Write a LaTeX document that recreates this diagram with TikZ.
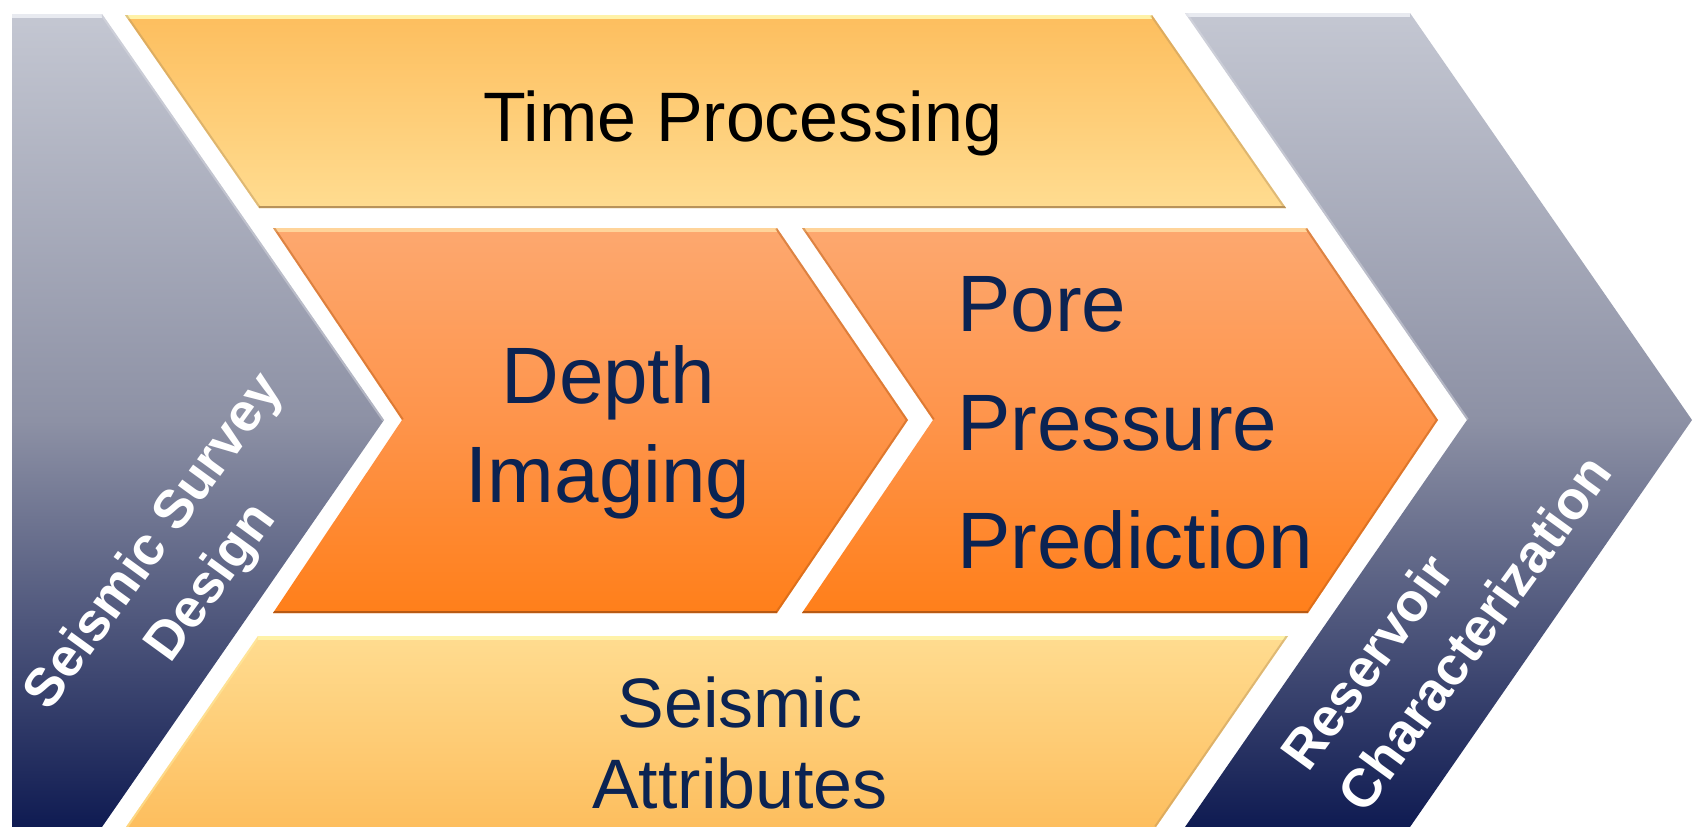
\documentclass[tikz,border=0pt]{standalone}
\usepackage{fontspec}
\setmainfont{Liberation Sans}
\definecolor{gTop}{HTML}{C4C7D2}
\definecolor{gMid}{HTML}{8D91A5}
\definecolor{gBot}{HTML}{0F1B52}
\definecolor{gHi}{HTML}{E8EAF0}
\definecolor{yTop}{HTML}{FDBE5E}
\definecolor{yBot}{HTML}{FFDC90}
\definecolor{yHi}{HTML}{FFF2A8}
\definecolor{yDk}{HTML}{B9935A}
\definecolor{oTop}{HTML}{FDA86F}
\definecolor{oMid}{HTML}{FE944B}
\definecolor{oBot}{HTML}{FF7F1A}
\definecolor{oHi}{HTML}{FFD49A}
\definecolor{oDk}{HTML}{B85A14}
\definecolor{navy}{HTML}{0B2352}
\begin{document}
\begin{tikzpicture}[x=1pt,y=-1pt,
  greybox/.style={top color=gTop,bottom color=gBot,middle color=gMid},
  ybox/.style={top color=yTop,bottom color=yBot},
  ybox2/.style={top color=yBot,bottom color=yTop},
  obox/.style={top color=oTop,bottom color=oBot,middle color=oMid},
  hiedge/.style={line width=8pt},
  dkedge/.style={line width=5pt},
  sideedge/.style={line width=4pt,opacity=0.45},
  big/.style={inner sep=0pt,font=\fontsize{80}{96}\selectfont,text=navy},
  mid/.style={inner sep=0pt,font=\fontsize{70}{81}\selectfont,text=navy},
  side/.style={inner sep=0pt,font=\fontsize{54}{70}\selectfont\bfseries,text=white,rotate=54}]
\useasboundingbox (0,0) rectangle (1695,827);
\clip (0,0) rectangle (1695,827);
\fill[white] (0,0) rectangle (1695,827);

% left grey chevron
\path[greybox] (12,14) -- (102,14) -- (384,420) -- (102,827) -- (12,827) -- cycle;
\begin{scope}
\clip (12,14) -- (102,14) -- (384,420) -- (102,827) -- (12,827) -- cycle;
\draw[hiedge,gHi] (12,14) -- (102,14);
\draw[sideedge,gTop!60!white] (102,14) -- (384,420);
\end{scope}

% right grey chevron
\path[greybox] (1185,13) -- (1410,13) -- (1692,420) -- (1410,827) -- (1185,827) -- (1467,420) -- cycle;
\begin{scope}
\clip (1185,13) -- (1410,13) -- (1692,420) -- (1410,827) -- (1185,827) -- (1467,420) -- cycle;
\draw[hiedge,gHi] (1185,13) -- (1410,13);
\draw[sideedge,gTop!60!white] (1185,13) -- (1467,420);
\end{scope}

% Time Processing band
\path[ybox] (125,15) -- (1152,15) -- (1286,208) -- (259,208) -- cycle;
\begin{scope}
\clip (125,15) -- (1152,15) -- (1286,208) -- (259,208) -- cycle;
\draw[hiedge,yHi] (125,15) -- (1152,15);
\draw[dkedge,yDk] (259,208) -- (1286,208);
\draw[sideedge,yDk] (1152,15) -- (1286,208);
\draw[sideedge,yDk] (125,15) -- (259,208);
\end{scope}

% Seismic Attributes band
\path[ybox2] (258,636) -- (1288,636) -- (1156,827) -- (126,827) -- cycle;
\begin{scope}
\clip (258,636) -- (1288,636) -- (1156,827) -- (126,827) -- cycle;
\draw[hiedge,yHi] (258,636) -- (1288,636);
\draw[sideedge,yDk] (1288,636) -- (1156,827);
\draw[sideedge,yHi] (258,636) -- (126,827);
\end{scope}

% Depth Imaging chevron
\path[obox] (273,228) -- (777,228) -- (908,420) -- (777,613) -- (273,613) -- (402,420) -- cycle;
\begin{scope}
\clip (273,228) -- (777,228) -- (908,420) -- (777,613) -- (273,613) -- (402,420) -- cycle;
\draw[hiedge,oHi] (273,228) -- (777,228);
\draw[dkedge,oDk] (273,613) -- (777,613);
\draw[sideedge,oDk] (777,228) -- (908,420) -- (777,613);
\draw[sideedge,oDk] (273,228) -- (402,420);
\end{scope}

% Pore Pressure Prediction chevron
\path[obox] (802,228) -- (1307,228) -- (1438,420) -- (1308,613) -- (802,613) -- (933,420) -- cycle;
\begin{scope}
\clip (802,228) -- (1307,228) -- (1438,420) -- (1308,613) -- (802,613) -- (933,420) -- cycle;
\draw[hiedge,oHi] (802,228) -- (1307,228);
\draw[dkedge,oDk] (802,613) -- (1308,613);
\draw[sideedge,oDk] (1307,228) -- (1438,420) -- (1308,613);
\draw[sideedge,oDk] (802,228) -- (933,420);
\end{scope}

% texts
\node[mid,text=black,anchor=base] (tp) at (743,141) {Time Processing};
\node[big,anchor=base] (di1) at (608,403) {Depth};
\node[big,anchor=base] (di2) at (608,502) {Imaging};
\node[big,anchor=base west] (pp1) at (957,331) {Pore};
\node[big,anchor=base west] (pp2) at (957,450) {Pressure};
\node[big,anchor=base west] (pp3) at (957,568) {Prediction};
\node[mid,anchor=base] (sa1) at (740,727) {Seismic};
\node[mid,anchor=base] (sa2) at (740,808) {Attributes};
\node[side,align=center] (ssd) at (184,563) {Seismic Survey\\Design};
\node[side,align=left] (rc) at (1446,612) {Reservoir\\Characterization};
\end{tikzpicture}
\end{document}
